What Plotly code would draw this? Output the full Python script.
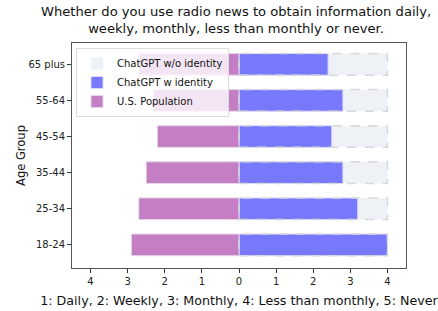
import plotly.graph_objects as go

categories = ["18-24", "25-34", "35-44", "45-54", "55-64", "65 plus"]
us_population = [2.9, 2.7, 2.5, 2.2, 2.3, 2.7]
chatgpt_w_identity = [4.0, 3.2, 2.8, 2.5, 2.8, 2.4]
chatgpt_wo_identity = [4.0, 4.0, 4.0, 4.0, 4.0, 4.0]
x_tick_vals = [-4, -3, -2, -1, 0, 1, 2, 3, 4]
x_tick_text = ["4", "3", "2", "1", "0", "1", "2", "3", "4"]

pos = list(range(len(categories)))
bw = 0.6
fig = go.Figure()

fig.add_trace(go.Bar(
    y=pos, x=chatgpt_wo_identity, orientation="h", width=bw,
    name="ChatGPT w/o identity",
    marker=dict(color="#eef1f6", line=dict(color="#d4d7dc", width=0)),
))
# dashed outline for the w/o identity bars
ox, oy = [], []
for p, v in zip(pos, chatgpt_wo_identity):
    ox += [0, v, v, 0, 0, None]
    oy += [p - bw / 2, p - bw / 2, p + bw / 2, p + bw / 2, p - bw / 2, None]
fig.add_trace(go.Scatter(
    x=ox, y=oy, mode="lines", showlegend=False, hoverinfo="skip",
    line=dict(color="#d4d7dc", width=1.5, dash="dash"),
))
fig.add_trace(go.Bar(
    y=pos, x=chatgpt_w_identity, orientation="h", width=bw,
    name="ChatGPT w identity",
    marker=dict(color="#7878fc", line=dict(color="#dcdcf0", width=1)),
))
fig.add_trace(go.Bar(
    y=pos, x=[-v for v in us_population], orientation="h", width=bw,
    name="U.S. Population",
    marker=dict(color="#c47ec4", line=dict(color="#e6d6e6", width=1)),
))

axis_common = dict(
    showline=True, linecolor="#555555", linewidth=1, mirror=True,
    ticks="outside", ticklen=4, tickcolor="#333333", showgrid=False, zeroline=False,
    tickfont=dict(size=10, color="#222222"), automargin=False,
)

fig.update_layout(
    width=438, height=311,
    margin=dict(l=72, r=32, t=43, b=43),
    barmode="overlay",
    plot_bgcolor="white", paper_bgcolor="white",
    font=dict(family="DejaVu Sans", color="#111111"),
    xaxis=dict(range=[-4.5, 4.5], tickvals=x_tick_vals, ticktext=x_tick_text,
               title=dict(text="1: Daily, 2: Weekly, 3: Monthly, 4: Less than monthly, 5: Never",
                          font=dict(size=12.7), standoff=10),
               **axis_common),
    yaxis=dict(range=[-0.64, 5.59], tickvals=pos, ticktext=categories,
               title=dict(text="Age Group", font=dict(size=11.5), standoff=0),
               **axis_common),
    legend=dict(x=0.012, y=0.978, xanchor="left", yanchor="top",
                bgcolor="rgba(255,255,255,0.8)", bordercolor="#dddddd", borderwidth=1,
                font=dict(size=10), tracegroupgap=0, itemwidth=30),
    annotations=[dict(
        text="Whether do you use radio news to obtain information daily,<br>weekly, monthly, less than monthly or never.",
        xref="paper", yref="paper", x=0.49, y=1.02, xanchor="center", yanchor="bottom",
        showarrow=False, font=dict(size=13.1, color="#111111"),
    )],
)

fig.write_html("out.html", config={"displayModeBar": False},
               post_script="document.body.style.margin='0';document.body.style.overflow='hidden';")
